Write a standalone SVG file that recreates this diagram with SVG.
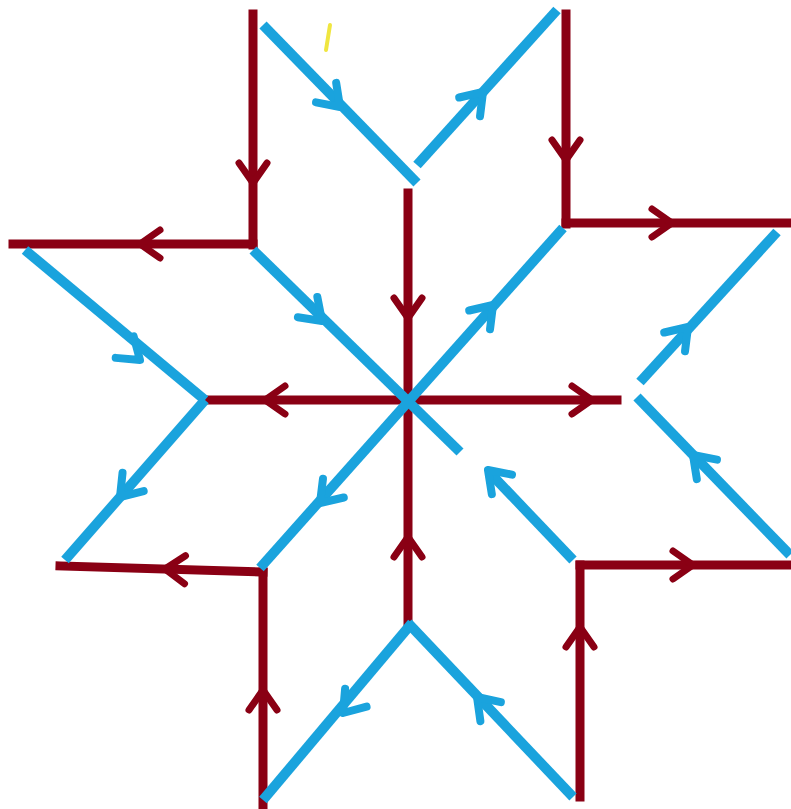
<svg xmlns="http://www.w3.org/2000/svg" xmlns:xlink="http://www.w3.org/1999/xlink" width="791" height="809" viewBox="0 0 791 809">
<style>
.red{stroke:#8A0014;stroke-width:9;fill:none;stroke-linecap:square;stroke-linejoin:round}
.blue{stroke:#1AA3DD;stroke-width:10;fill:none;stroke-linecap:butt;stroke-linejoin:round}
.ra{stroke:#8A0014;stroke-width:7;fill:none;stroke-linecap:round;stroke-linejoin:round}
.ba{stroke:#1AA3DD;stroke-width:8;fill:none;stroke-linecap:round;stroke-linejoin:round}
</style>
<defs>
<path id="chev" d="M-20,-14 L0,0 L-20,14"/>
</defs>
<rect width="791" height="809" fill="#ffffff"/>
<g id="red-lines">
<line class="red" x1="253" y1="14" x2="253" y2="245"/>
<line class="red" x1="13" y1="244" x2="253" y2="244"/>
<line class="red" x1="566" y1="14" x2="566" y2="224"/>
<line class="red" x1="566" y1="223" x2="787" y2="223"/>
<line class="red" x1="408" y1="193" x2="408" y2="400"/>
<line class="red" x1="205" y1="400" x2="408" y2="400"/>
<line class="red" x1="408" y1="400" x2="617" y2="400"/>
<line class="red" x1="408" y1="400" x2="408" y2="622"/>
<line class="red" x1="60" y1="566" x2="263" y2="572"/>
<line class="red" x1="263" y1="572" x2="263" y2="805"/>
<line class="red" x1="580" y1="565" x2="790" y2="565"/>
<line class="red" x1="580" y1="565" x2="580" y2="797"/>
</g>
<g id="red-arrows">
<use xlink:href="#chev" class="ra" transform="translate(253,183) rotate(90)"/>
<use xlink:href="#chev" class="ra" transform="translate(140,244) rotate(180)"/>
<use xlink:href="#chev" class="ra" transform="translate(566,160) rotate(90)"/>
<use xlink:href="#chev" class="ra" transform="translate(672,223)"/>
<use xlink:href="#chev" class="ra" transform="translate(408,318) rotate(90)"/>
<use xlink:href="#chev" class="ra" transform="translate(265,400) rotate(180)"/>
<use xlink:href="#chev" class="ra" transform="translate(592,400)"/>
<use xlink:href="#chev" class="ra" transform="translate(408,537) rotate(-90)"/>
<use xlink:href="#chev" class="ra" transform="translate(165,569) rotate(182)"/>
<use xlink:href="#chev" class="ra" transform="translate(263,690) rotate(-90)"/>
<use xlink:href="#chev" class="ra" transform="translate(693,565)"/>
<use xlink:href="#chev" class="ra" transform="translate(580,627) rotate(-90)"/>
</g>
<g id="blue-lines">
<line class="blue" x1="263" y1="25" x2="417" y2="183"/>
<line class="blue" x1="417" y1="165" x2="557" y2="10"/>
<line class="blue" x1="253" y1="250" x2="460" y2="452"/>
<line class="blue" x1="563" y1="228" x2="260" y2="568"/>
<line class="blue" x1="25" y1="250" x2="205" y2="400"/>
<line class="blue" x1="205" y1="400" x2="65" y2="560"/>
<line class="blue" x1="777" y1="232" x2="640" y2="382"/>
<line class="blue" x1="637" y1="397" x2="790" y2="555"/>
<line class="blue" x1="573" y1="560" x2="490" y2="473"/>
<line class="blue" x1="412" y1="623" x2="263" y2="800"/>
<line class="blue" x1="408" y1="623" x2="573" y2="797"/>
</g>
<g id="blue-arrows">
<use xlink:href="#chev" class="ba" transform="translate(340,107) rotate(46)"/>
<use xlink:href="#chev" class="ba" transform="translate(483,92) rotate(-48)"/>
<use xlink:href="#chev" class="ba" transform="translate(322,321) rotate(44)"/>
<use xlink:href="#chev" class="ba" transform="translate(493,305) rotate(-48)"/>
<use xlink:href="#chev" class="ba" transform="translate(320,503) rotate(132)"/>
<use xlink:href="#chev" class="ba" transform="translate(140,360) rotate(40)"/>
<use xlink:href="#chev" class="ba" transform="translate(120,497) rotate(131)"/>
<use xlink:href="#chev" class="ba" transform="translate(688,327) rotate(-48)"/>
<use xlink:href="#chev" class="ba" transform="translate(693,455) rotate(-134)"/>
<use xlink:href="#chev" class="ba" transform="translate(488,470) rotate(-134)"/>
<use xlink:href="#chev" class="ba" transform="translate(343,713) rotate(130)"/>
<use xlink:href="#chev" class="ba" transform="translate(477,697) rotate(-133)"/>
</g>
<g id="mark">
<line x1="330" y1="25" x2="326" y2="50" stroke="#F0E640" stroke-width="4" stroke-linecap="round"/>
</g>
</svg>
